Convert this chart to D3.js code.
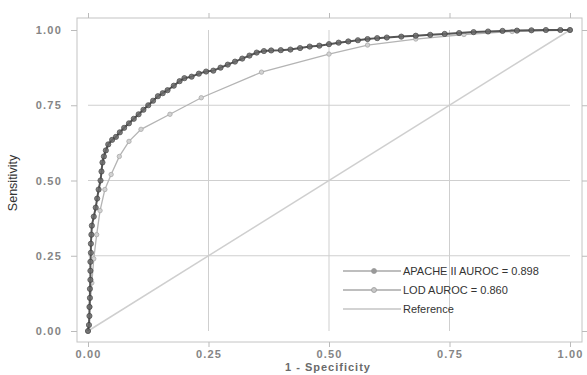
<!DOCTYPE html>
<html><head><meta charset="utf-8">
<script src="https://cdn.jsdelivr.net/npm/d3@7"></script>
<style>body{margin:0;background:#fff}svg{display:block}</style>
</head><body><svg id="c" width="587" height="375"></svg>
<script>
const ticks = [0, 0.25, 0.5, 0.75, 1];
const tickLabels = ["0.00", "0.25", "0.50", "0.75", "1.00"];
const apacheX = [0,0.002,0.003,0.003,0.004,0.004,0.005,0.005,0.005,0.006,0.006,0.007,0.008,0.012,0.016,0.019,0.022,0.026,0.028,0.030,0.033,0.037,0.042,0.050,0.058,0.066,0.075,0.085,0.095,0.105,0.115,0.125,0.135,0.145,0.155,0.165,0.178,0.19,0.20,0.215,0.23,0.245,0.26,0.275,0.29,0.305,0.32,0.335,0.35,0.365,0.38,0.40,0.42,0.44,0.46,0.48,0.50,0.52,0.54,0.56,0.58,0.60,0.62,0.65,0.68,0.71,0.74,0.77,0.80,0.83,0.86,0.89,0.92,0.95,0.98,1.0];
const apacheY = [0,0.02,0.05,0.08,0.11,0.14,0.17,0.20,0.23,0.26,0.29,0.32,0.35,0.38,0.41,0.44,0.47,0.50,0.53,0.56,0.58,0.60,0.62,0.635,0.645,0.66,0.675,0.69,0.705,0.72,0.735,0.75,0.765,0.78,0.79,0.80,0.815,0.83,0.84,0.845,0.855,0.862,0.865,0.875,0.885,0.895,0.905,0.915,0.925,0.93,0.932,0.933,0.935,0.94,0.945,0.948,0.953,0.958,0.962,0.966,0.970,0.973,0.975,0.978,0.981,0.984,0.987,0.99,0.993,0.995,0.997,0.998,0.999,1.0,1.0,1.0];
const lodX = [0,0.004,0.008,0.012,0.018,0.025,0.035,0.048,0.065,0.085,0.11,0.17,0.235,0.36,0.50,0.58,0.68,0.78,0.88,1.0];
const lodY = [0,0.08,0.16,0.24,0.32,0.40,0.47,0.52,0.58,0.63,0.67,0.72,0.775,0.86,0.92,0.95,0.97,0.985,0.995,1.0];
const refX = [0, 1];
const refY = [0, 1];
const legendLabels = ["APACHE II AUROC = 0.898", "LOD AUROC = 0.860", "Reference"];

const svg = d3.select("#c");
const x = d3.scaleLinear().domain([0, 1]).range([88, 570]);
const y = d3.scaleLinear().domain([0, 1]).range([331, 30]);
const frame = {l: 77, t: 18, r: 582, b: 342};

// grid
const g = svg.append("g");
[0.25, 0.5, 0.75].forEach(v => {
  g.append("line").attr("x1", x(v)).attr("x2", x(v)).attr("y1", y(1)).attr("y2", y(0))
    .attr("stroke", "#cfcfcf").attr("stroke-width", 1);
  g.append("line").attr("x1", x(0)).attr("x2", x(1)).attr("y1", y(v)).attr("y2", y(v))
    .attr("stroke", "#cfcfcf").attr("stroke-width", 1);
});

// frame
svg.append("rect").attr("x", frame.l).attr("y", frame.t)
  .attr("width", frame.r - frame.l).attr("height", frame.b - frame.t)
  .attr("fill", "none").attr("stroke", "#c4c4c4").attr("stroke-width", 1);

// axes
const fmt = (d) => tickLabels[ticks.indexOf(d)];
const axL = svg.append("g").attr("transform", `translate(${frame.l},0)`)
  .call(d3.axisLeft(y).tickValues(ticks).tickFormat(fmt).tickSize(6).tickPadding(9));
const axB = svg.append("g").attr("transform", `translate(0,${frame.b})`)
  .call(d3.axisBottom(x).tickValues(ticks).tickFormat(fmt).tickSize(5).tickPadding(3));
const axT = svg.append("g").attr("transform", `translate(0,${frame.t})`)
  .call(d3.axisTop(x).tickValues(ticks).tickFormat("").tickSize(5));
const axR = svg.append("g").attr("transform", `translate(${frame.r},0)`)
  .call(d3.axisRight(y).tickValues(ticks).tickFormat("").tickSize(5));
[axL, axB, axT, axR].forEach(a => {
  a.select(".domain").remove();
  a.selectAll(".tick line").attr("stroke", "#bbb");
  a.selectAll(".tick text").attr("fill", "#858585")
    .style("font-family", "Liberation Sans, Arial, sans-serif").style("font-size", "11px")
    .style("letter-spacing", "1.2px").style("font-weight", "bold");
});

// reference line
const line = d3.line().x(d => x(d[0])).y(d => y(d[1]));
svg.append("path").datum(d3.zip(refX, refY)).attr("d", line)
  .attr("fill", "none").attr("stroke", "#cfcfcf").attr("stroke-width", 1.5);

// LOD
const lod = d3.zip(lodX, lodY);
svg.append("path").datum(lod).attr("d", line)
  .attr("fill", "none").attr("stroke", "#b4b4b4").attr("stroke-width", 1.3);
svg.append("g").selectAll("circle").data(lod).join("circle")
  .attr("cx", d => x(d[0])).attr("cy", d => y(d[1])).attr("r", 2.2)
  .attr("fill", "#d2d2d2").attr("stroke", "#aaa").attr("stroke-width", 0.8);

// APACHE
const ap = d3.zip(apacheX, apacheY);
svg.append("path").datum(ap).attr("d", line)
  .attr("fill", "none").attr("stroke", "#555").attr("stroke-width", 2);
svg.append("g").selectAll("circle").data(ap).join("circle")
  .attr("cx", d => x(d[0])).attr("cy", d => y(d[1])).attr("r", 2.6)
  .attr("fill", "#6a6a6a").attr("stroke", "#3a3a3a").attr("stroke-width", 0.8).attr("opacity", 0.85);

// axis titles
svg.append("text").attr("transform", "translate(17,183) rotate(-90)")
  .attr("text-anchor", "middle").attr("fill", "#333")
  .style("font-family", "Liberation Sans, Arial, sans-serif").style("font-size", "12.5px")
  .text("Sensitivity");
svg.append("text").attr("x", 328).attr("y", 371).attr("text-anchor", "middle").attr("fill", "#6a6a6a")
  .style("font-family", "Liberation Sans, Arial, sans-serif").style("font-size", "11px")
  .style("letter-spacing", "1px").style("font-weight", "bold")
  .text("1 - Specificity");

// legend
const legY = [271, 290, 309];
const legStroke = ["#a8a8a8", "#a8a8a8", "#c4c4c4"];
legendLabels.forEach((lab, i) => {
  svg.append("line").attr("x1", 343).attr("x2", 401).attr("y1", legY[i]).attr("y2", legY[i])
    .attr("stroke", legStroke[i]).attr("stroke-width", 1.3);
  if (i < 2) {
    svg.append("circle").attr("cx", 374).attr("cy", legY[i]).attr("r", 2.5)
      .attr("fill", i === 0 ? "#999" : "#c8c8c8").attr("stroke", "#999").attr("stroke-width", 0.8);
  }
  svg.append("text").attr("x", 403).attr("y", legY[i] + 4).attr("fill", "#333")
    .style("font-family", "Liberation Sans, Arial, sans-serif").style("font-size", "11px")
    .text(lab);
});
</script></body></html>
